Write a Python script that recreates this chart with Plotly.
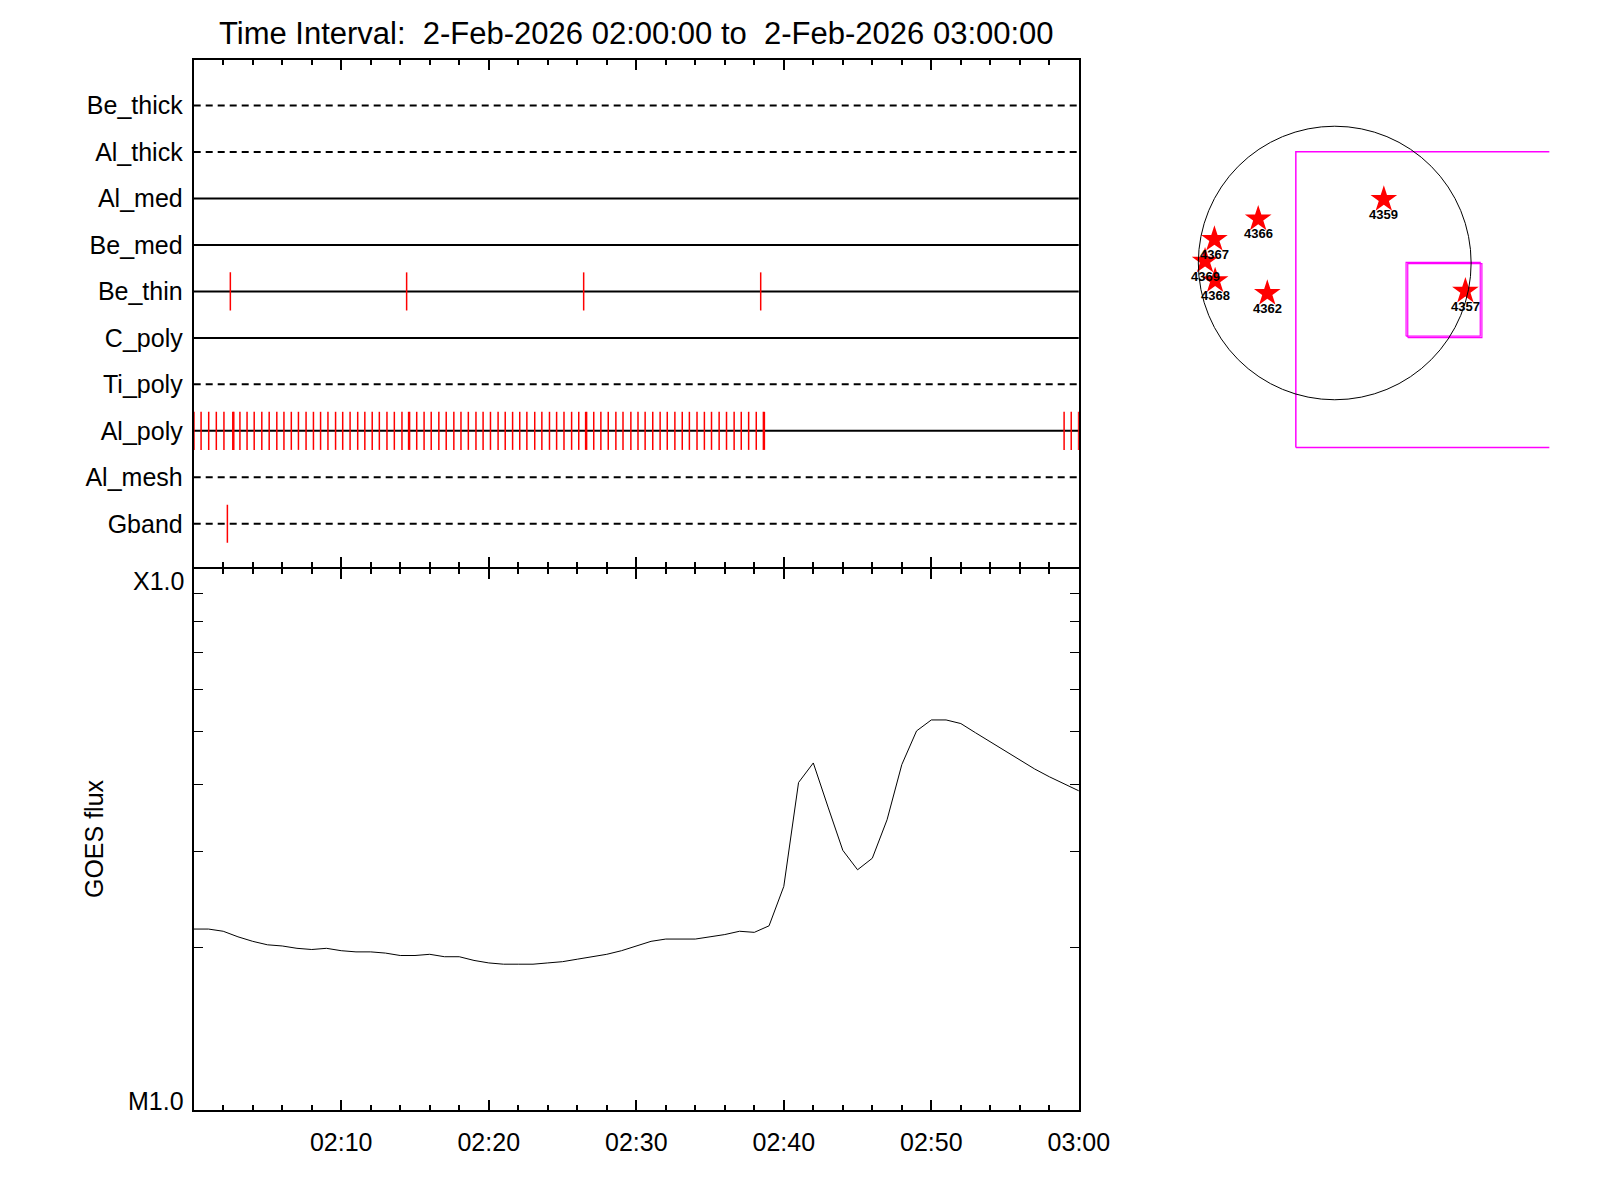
import plotly.graph_objects as go

# filter rows, bottom to top
filters = ['Gband', 'Al_mesh', 'Al_poly', 'Ti_poly', 'C_poly',
           'Be_thin', 'Be_med', 'Al_med', 'Al_thick', 'Be_thick']

# image times, seconds after 02:00:00
be_thin_t = [149, 866, 1586, 2306]
gband_t = [137]
al_poly_t = [1, 30, 61, 92, 123, 159, 163, 188, 217, 246, 277, 307, 338, 367, 397,
             426, 457, 487, 516, 546, 577, 606, 636, 667, 696, 726, 755, 786, 816,
             847, 874, 878, 907, 937, 966, 997, 1027, 1058, 1087, 1117, 1148, 1177,
             1207, 1238, 1267, 1297, 1326, 1355, 1387, 1416, 1447, 1476, 1506, 1537,
             1566, 1594, 1598, 1627, 1656, 1686, 1717, 1746, 1778, 1807, 1836, 1867,
             1897, 1926, 1957, 1987, 2016, 2047, 2077, 2106, 2137, 2167, 2198, 2227,
             2257, 2288, 2317, 2321, 3540, 3569, 3599]

# GOES 1-8 A flux, 1 minute cadence
goes_min = [0, 1, 2, 3, 4, 5, 6, 7, 8, 9, 10, 11, 12, 13, 14, 15, 16, 17, 18, 19, 20,
            21, 22, 23, 24, 25, 26, 27, 28, 29, 30, 31, 32, 33, 34, 35, 36, 37, 38, 39,
            40, 41, 42, 43, 44, 45, 46, 47, 48, 49, 50, 51, 52, 53, 54, 55, 56, 57, 58,
            59, 60]
goes_flux = [2.16e-5, 2.16e-5, 2.14e-5, 2.09e-5, 2.05e-5, 2.02e-5, 2.01e-5, 1.99e-5,
             1.98e-5, 1.99e-5, 1.97e-5, 1.96e-5, 1.96e-5, 1.95e-5, 1.93e-5, 1.93e-5,
             1.94e-5, 1.92e-5, 1.92e-5, 1.89e-5, 1.87e-5, 1.86e-5, 1.86e-5, 1.86e-5,
             1.87e-5, 1.88e-5, 1.90e-5, 1.92e-5, 1.94e-5, 1.97e-5, 2.01e-5, 2.05e-5,
             2.07e-5, 2.07e-5, 2.07e-5, 2.09e-5, 2.11e-5, 2.14e-5, 2.13e-5, 2.19e-5,
             2.59e-5, 4.03e-5, 4.38e-5, 3.63e-5, 3.02e-5, 2.78e-5, 2.92e-5, 3.44e-5,
             4.35e-5, 5.02e-5, 5.26e-5, 5.26e-5, 5.18e-5, 4.98e-5, 4.79e-5, 4.62e-5,
             4.43e-5, 4.27e-5, 4.13e-5, 4.01e-5, 3.89e-5]

time_ticks = [0, 600, 1200, 1800, 2400, 3000, 3600]
time_labels = ['', '02:10', '02:20', '02:30', '02:40', '02:50', '03:00']
flux_ticks = [1e-5, 2e-5, 3e-5, 4e-5, 5e-5, 6e-5, 7e-5, 8e-5, 9e-5, 1e-4]

# active regions (arcsec) and fields of view
noaa = ['4359', '4366', '4367', '4369', '4368', '4362', '4357']
ar_x = [351, -547, -860, -927, -855, -482, 934]
ar_y = [454, 314, 169, 14, -126, -216, -200]
big_fov_x = [-278, -278, 2000, 2000, -278]
big_fov_y = [-1316, 793, 793, -1316, -1316]
fov1_x = [510, 510, 1040, 1040, 510]
fov1_y = [-522, 5, 5, -522, -522]
fov2_x = [522, 522, 1052, 1052, 522]
fov2_y = [-532, -5, -5, -532, -532]

FONT = 'Liberation Sans, Arial, sans-serif'
dashed = {'Gband', 'Al_mesh', 'Ti_poly', 'Al_thick', 'Be_thick'}

W, H = 1584, 1170


# page pixel -> paper fraction (measured from the rendered page)
def px(x):
    return (x - 5.7) / 1558


def py(y):
    return 1 - (y - 8) / H


fig = go.Figure()

# filter rows
for i, f in enumerate(filters):
    row = i + 1
    fig.add_trace(go.Scatter(x=[0, 3600], y=[row, row], mode='lines',
                             line=dict(color='black', width=2,
                                       dash='7px,5px' if f in dashed else 'solid'),
                             xaxis='x', yaxis='y', showlegend=False, hoverinfo='skip'))


def ticks(times, row):
    xs, ys = [], []
    for t in times:
        xs += [t, t, None]
        ys += [row - 0.41, row + 0.41, None]
    return xs, ys


for times, name in [(be_thin_t, 'Be_thin'), (al_poly_t, 'Al_poly'), (gband_t, 'Gband')]:
    xs, ys = ticks(times, filters.index(name) + 1)
    fig.add_trace(go.Scatter(x=xs, y=ys, mode='lines', line=dict(color='red', width=1.5),
                             xaxis='x', yaxis='y', showlegend=False, hoverinfo='skip'))

# GOES curve
fig.add_trace(go.Scatter(x=[m * 60 for m in goes_min], y=goes_flux, mode='lines',
                         line=dict(color='black', width=1), xaxis='x2', yaxis='y2',
                         showlegend=False))

# solar map
fig.add_trace(go.Scatter(x=big_fov_x, y=big_fov_y, mode='lines',
                         line=dict(color='#ff00ff', width=1.5), xaxis='x3', yaxis='y3',
                         showlegend=False))
for fx, fy in [(fov1_x, fov1_y), (fov2_x, fov2_y)]:
    fig.add_trace(go.Scatter(x=fx, y=fy, mode='lines', line=dict(color='#ff00ff', width=1.2),
                             xaxis='x3', yaxis='y3', showlegend=False))
fig.add_trace(go.Scatter(x=ar_x, y=ar_y, mode='markers',
                         marker=dict(symbol='star', size=20, color='red', line=dict(width=0)),
                         xaxis='x3', yaxis='y3', showlegend=False))

# region numbers just under each star
ar_notes = [dict(text=n, x=x, y=y, xref='x3', yref='y3', showarrow=False,
                 xanchor='center', yanchor='middle', yshift=-15,
                 font=dict(family=FONT, size=13, color='black', weight='bold'))
            for n, x, y in zip(noaa, ar_x, ar_y)]

axis_common = dict(showline=True, linecolor='black', linewidth=2, mirror='ticks',
                   showgrid=False, zeroline=False, ticks='inside', tickcolor='black')
minor_x = dict(tickmode='linear', tick0=0, dtick=120, ticks='inside',
               ticklen=5, tickwidth=2, tickcolor='black')

fig.update_layout(
    width=W, height=H,
    margin=dict(l=0, r=0, t=0, b=0),
    paper_bgcolor='white', plot_bgcolor='white',
    font=dict(family=FONT, size=25, color='black'),
    title=dict(text='Time Interval:\u00a0\u00a02-Feb-2026 02:00:00 to\u00a0\u00a02-Feb-2026 03:00:00',
               x=px(636), y=py(33), xanchor='center', yanchor='middle', xref='paper',
               font=dict(family=FONT, size=31, color='black')),
    xaxis=dict(domain=[px(192), px(1080)], range=[0, 3600], anchor='y',
               tickmode='array', tickvals=time_ticks, showticklabels=False,
               ticklen=10, tickwidth=2, minor=minor_x, **axis_common),
    yaxis=dict(domain=[py(567), py(60)], range=[0.07, 10.98], anchor='x',
               tickmode='array', tickvals=list(range(1, 11)), ticktext=filters,
               showline=True, linecolor='black', linewidth=2, mirror=True,
               showgrid=False, zeroline=False, ticks='', ticklabelstandoff=4,
               tickfont=dict(family=FONT, size=25, color='black')),
    xaxis2=dict(domain=[px(192), px(1080)], range=[0, 3600], anchor='y2',
                tickmode='array', tickvals=time_ticks, ticktext=time_labels,
                ticklen=10, tickwidth=2, ticklabelstandoff=9,
                tickfont=dict(family=FONT, size=25, color='black'),
                minor=minor_x, **axis_common),
    yaxis2=dict(domain=[py(1110), py(569)], type='log', range=[-5, -4], anchor='x2',
                tickmode='array', tickvals=flux_ticks, showticklabels=False,
                ticklen=9, tickwidth=1, **axis_common),
    xaxis3=dict(domain=[px(1160), px(1552)], range=[-1259, 1534], visible=False, anchor='y3'),
    yaxis3=dict(domain=[py(480), py(100)], range=[-1547, 1162], visible=False, anchor='x3'),
    shapes=[dict(type='circle', xref='x3', yref='y3', x0=-975, y0=-975, x1=975, y1=975,
                 line=dict(color='black', width=1))],
    annotations=ar_notes + [
        dict(text='X1.0', xref='paper', yref='y2', x=px(192), y=-4, xanchor='right',
             yanchor='middle', xshift=-8, yshift=-12, showarrow=False,
             font=dict(family=FONT, size=25, color='black')),
        dict(text='M1.0', xref='paper', yref='y2', x=px(192), y=-5, xanchor='right',
             yanchor='middle', xshift=-8, yshift=9, showarrow=False,
             font=dict(family=FONT, size=25, color='black')),
        dict(text='GOES flux', xref='paper', yref='paper', x=px(92), y=py(839),
             xanchor='center', yanchor='middle', textangle=-90, showarrow=False,
             font=dict(family=FONT, size=25, color='black')),
    ],
)

fig.write_html("out.html")
